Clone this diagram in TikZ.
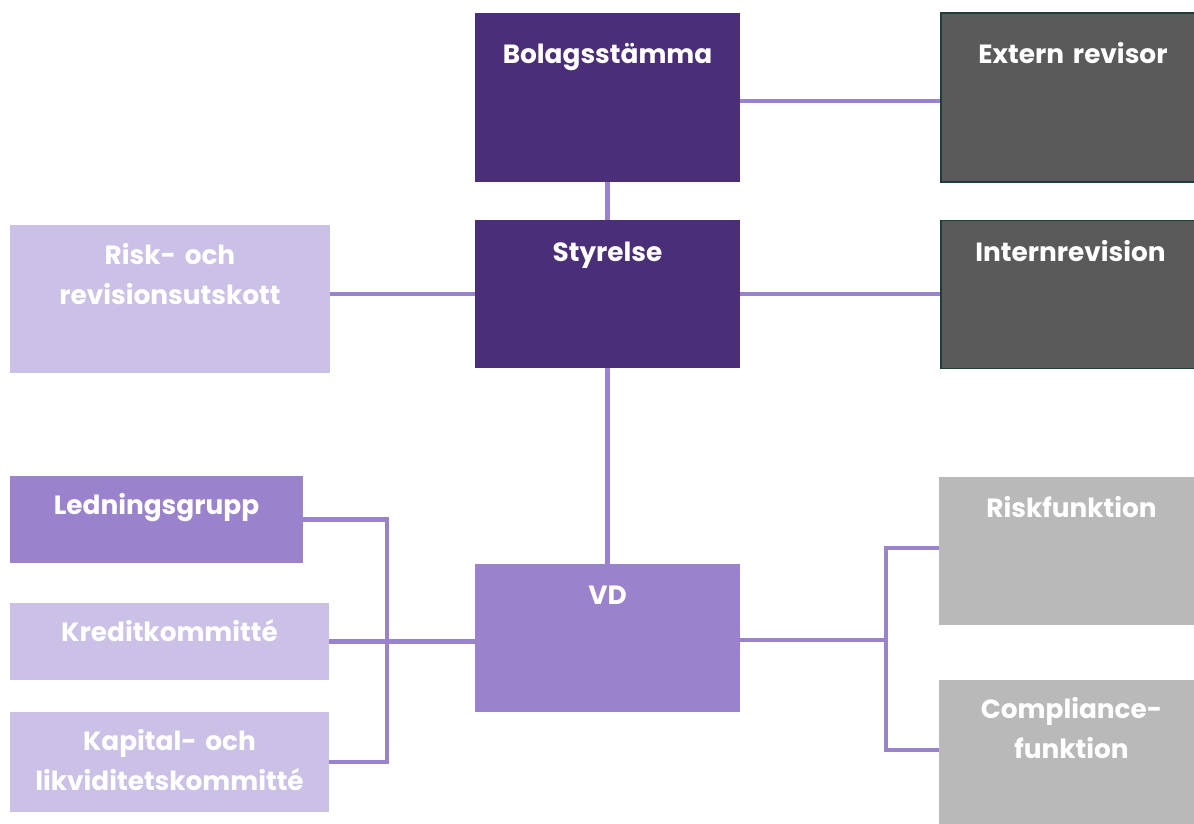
\documentclass[tikz,border=0pt]{standalone}
\usepackage{fontspec}
\setmainfont{Poppins}
\definecolor{darkpurple}{HTML}{4A2E78}
\definecolor{midpurple}{HTML}{9B82CC}
\definecolor{lightpurple}{HTML}{CBC0E6}
\definecolor{darkgrey}{HTML}{5A5A5A}
\definecolor{greyedge}{HTML}{1E3D38}
\definecolor{lightgrey}{HTML}{B9B9B9}
\begin{document}
\begin{tikzpicture}[
    x=0.02cm, y=-0.02cm,
    box/.style={inner sep=0pt, minimum width=5.3cm, minimum height=2.96cm},
    board/.style={box, fill=darkpurple},
    audit/.style={box, fill=darkgrey, draw=greyedge, line width=1.1pt, minimum width=5.2cm},
    control/.style={box, fill=lightgrey, minimum width=5.22cm},
    committee/.style={box, fill=lightpurple, minimum width=6.38cm},
    boxtext/.style={anchor=base, text=white, font=\bfseries\fontsize{15}{22.8}\selectfont, align=center, text width=6cm, inner sep=0pt},
    link/.style={draw=midpurple, line width=2.6pt}
]
    \clip (0,0) rectangle (1194,823);

    % boxes
    \node[board, minimum height=3.38cm] (bolag) at (607.5,97.5) {};
    \node[board] (styrelse) at (607.5,294) {};
    \node[box, fill=midpurple] (vd) at (607.5,638) {};
    \node[audit, minimum height=3.38cm] (extern) at (1071,97.5) {};
    \node[audit] (intern) at (1070.5,294.5) {};
    \node[committee, minimum width=6.4cm] (risk) at (170,299) {};
    \node[box, fill=midpurple, minimum width=5.86cm, minimum height=1.74cm] (ledning) at (156.5,519.5) {};
    \node[committee, minimum height=1.54cm] (kredit) at (169.5,641.5) {};
    \node[committee, minimum height=2cm] (kapital) at (169.5,762) {};
    \node[control] (riskf) at (1069.5,551) {};
    \node[control, minimum height=3cm] (compl) at (1069.5,755) {};

    % texts
    \node[boxtext] (bolagT) at ([yshift=-1.02cm]bolag.north) {Bolagsstämma};
    \node[boxtext] (styrelseT) at ([yshift=-0.84cm]styrelse.north) {Styrelse};
    \node[boxtext] (vdT) at ([yshift=-0.82cm]vd.north) {VD};
    \node[boxtext] (externT) at ([xshift=0.04cm, yshift=-1.02cm]extern.north) {Extern revisor};
    \node[boxtext] (internT) at ([yshift=-0.84cm]intern.north) {Internrevision};
    \node[boxtext] (riskT) at ([yshift=-0.8cm]risk.north) {Risk- och\\revisionsutskott};
    \node[boxtext] (ledningT) at ([yshift=-0.78cm]ledning.north) {Ledningsgrupp};
    \node[boxtext] (kreditT) at ([yshift=-0.78cm]kredit.north) {Kreditkommitté};
    \node[boxtext] (kapitalT) at ([yshift=-0.78cm]kapital.north) {Kapital- och\\likviditetskommitté};
    \node[boxtext] (riskfT) at ([xshift=0.04cm, yshift=-0.82cm]riskf.north) {Riskfunktion};
    \node[boxtext] (complT) at ([xshift=0.04cm, yshift=-0.78cm]compl.north) {Compliance-\\funktion};

    % connectors
    \coordinate (lb) at (387,640);
    \coordinate (rb) at (886,640);
    \draw[link] (bolag) -- (styrelse);
    \draw[link] (styrelse) -- (vd);
    \draw[link] ([yshift=-0.07cm]bolag.east) -- ([yshift=-0.07cm]extern.west);
    \draw[link] (styrelse.east) -- (styrelse.east -| intern.west);
    \draw[link] (styrelse.west) -- (styrelse.west -| risk.east);
    \draw[link] (ledning.east) -| (lb) |- (kapital.east);
    \draw[link] (kredit.east) -- (kredit.east -| vd.west);
    \draw[link] (vd.east |- rb) -- (rb);
    \draw[link] ([yshift=0.06cm]riskf.west) -| (rb) |- ([yshift=0.1cm]compl.west);
\end{tikzpicture}
\end{document}
